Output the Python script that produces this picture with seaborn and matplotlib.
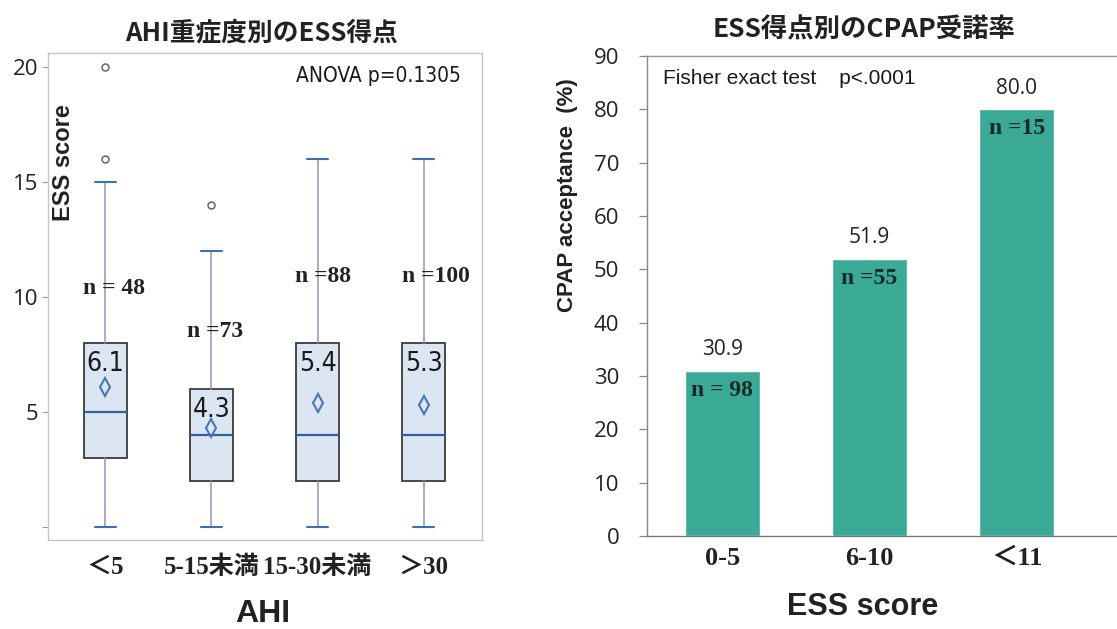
import matplotlib
matplotlib.use("Agg")
import matplotlib.pyplot as plt
import seaborn as sns
import pandas as pd

# ---- data -------------------------------------------------------------
ahi_groups = ["＜5", "5-15未満", "15-30未満", "＞30"]
ess_q1 = [3, 2, 2, 2]
ess_median = [5, 4, 4, 4]
ess_q3 = [8, 6, 8, 8]
ess_whisker_low = [0, 0, 0, 0]
ess_whisker_high = [15, 12, 16, 16]
ess_outliers = [[16, 20], [14], [], []]
ess_mean = [6.1, 4.3, 5.4, 5.3]
ahi_n = [48, 73, 88, 100]
ahi_n_text = ["n = 48", "n =73", "n =88", "n =100"]

ess_groups = ["0-5", "6-10", "＜11"]
cpap_acceptance = [30.9, 51.9, 80.0]
ess_n_text = ["n = 98", "n =55", "n =15"]

# ---- style ------------------------------------------------------------
sns.set_theme(style="white")
plt.rcParams["font.family"] = ["DejaVu Sans", "Noto Sans CJK JP"]

W, H = 1117, 629
fig = plt.figure(figsize=(W / 100, H / 100), dpi=100)


def fx(px):
    return px / W


def fy(py):
    return 1 - py / H


SANS = ["Liberation Sans", "DejaVu Sans"]
TICKS = ["Open Sans", "DejaVu Sans"]
SERIF_CJK = ["Liberation Serif", "Noto Sans CJK JP"]
CJK = ["Noto Sans CJK JP", "DejaVu Sans"]

# ---- left: ESS score by AHI severity ---------------------------------
ax1 = fig.add_axes([fx(48), fy(540), fx(482 - 48), (540 - 53) / H])

stats = []
for i in range(len(ahi_groups)):
    stats.append(dict(
        q1=ess_q1[i], med=ess_median[i], q3=ess_q3[i],
        whislo=ess_whisker_low[i], whishi=ess_whisker_high[i],
        fliers=ess_outliers[i], mean=ess_mean[i], label=ahi_groups[i],
    ))

ax1.bxp(
    stats, positions=range(len(ahi_groups)), widths=0.4,
    patch_artist=True, showmeans=True,
    boxprops=dict(facecolor="#dce6f2", edgecolor="#3a3a3a", linewidth=1.3),
    medianprops=dict(color="#2f5f9f", linewidth=1.6),
    whiskerprops=dict(color="#8a9ab8", linewidth=1.1),
    capprops=dict(color="#3f6fb0", linewidth=1.5),
    meanprops=dict(marker="d", markerfacecolor="none",
                   markeredgecolor="#4a74b4", markersize=9, markeredgewidth=1.5),
    flierprops=dict(marker="o", markerfacecolor="none",
                    markeredgecolor="#666666", markersize=5, markeredgewidth=1.1),
)

ax1.set_xlim(-0.54, 3.55)
ax1.set_ylim(-0.57, 20.6)
ax1.set_yticks([0, 5, 10, 15, 20])
ax1.set_yticklabels(["", "5", "10", "15", "20"], family=TICKS, fontsize=16, color="#222222")
ax1.set_xticks(range(len(ahi_groups)))
ax1.set_xticklabels(ahi_groups, family=SERIF_CJK, fontsize=18, fontweight="bold", color="#222222")
ax1.tick_params(axis="x", length=0, pad=11)
ax1.tick_params(axis="y", length=4, width=0.8, color="#999999", pad=3, left=True)
for s in ax1.spines.values():
    s.set_color("#c4c4c4")
    s.set_linewidth(1.0)

# mean values written inside the boxes
for i, m in enumerate(ess_mean):
    ax1.text(i, ess_q3[i] - 0.9, f"{m:.1f}", ha="center", va="center",
             family="DejaVu Sans", fontstretch="condensed", fontsize=19,
             color="#1a1a1a")

# sample sizes
n_label_y = [10.35, 8.5, 10.9, 10.9]
n_label_dx = [0.08, 0.03, 0.05, 0.12]
for i, t in enumerate(ahi_n_text):
    ax1.text(i + n_label_dx[i], n_label_y[i], t, ha="center", va="center",
             family=SERIF_CJK, fontsize=17, fontweight="bold", color="#222222")

ax1.text(0.952, 0.953, "ANOVA p=0.1305", transform=ax1.transAxes,
         ha="right", va="center", family="DejaVu Sans", fontstretch="condensed",
         fontsize=15, color="#1a1a1a")
ax1.text(0.035, 0.774, "ESS score", transform=ax1.transAxes, rotation=90,
         ha="center", va="center", family=SANS, fontsize=17,
         fontweight="bold", color="#222222")

fig.text(fx(262), fy(33), "AHI重症度別のESS得点", ha="center", va="center",
         family=CJK, fontsize=18.5, fontweight="bold", color="#222222")
fig.text(fx(263), fy(614), "AHI", ha="center", va="center",
         family=SANS, fontsize=23, fontweight="bold", color="#222222")

# ---- right: CPAP acceptance by ESS score -----------------------------
ax2 = fig.add_axes([fx(647), fy(536), fx(W - 647), (536 - 56) / H])

df = pd.DataFrame({"ess": ess_groups, "acc": cpap_acceptance})
sns.barplot(data=df, x="ess", y="acc", color="#3aaa97", saturation=1,
            width=0.51, ax=ax2)

ax2.set_xlim(-0.51, 2.68)
ax2.set_ylim(0, 90)
ax2.set_yticks(range(0, 91, 10))
ax2.set_yticklabels([str(v) for v in range(0, 91, 10)], family=TICKS,
                    fontsize=16, color="#222222")
ax2.set_xticks(range(len(ess_groups)))
ax2.set_xticklabels(ess_groups, family=SERIF_CJK, fontsize=19,
                    fontweight="bold", color="#222222")
ax2.set_xlabel("")
ax2.set_ylabel("")
ax2.tick_params(axis="x", length=0, pad=8)
ax2.tick_params(axis="y", length=6, width=0.9, color="#888888", pad=14, left=True)
ax2.spines["right"].set_visible(False)
ax2.spines["left"].set_color("#888888")
ax2.spines["bottom"].set_color("#777777")
ax2.spines["top"].set_color("#999999")
for s in ("left", "bottom", "top"):
    ax2.spines[s].set_linewidth(1.0)

for i, v in enumerate(cpap_acceptance):
    ax2.text(i, v + 4, f"{v:.1f}", ha="center", va="center",
             family=TICKS, fontsize=15, color="#222222")
    ax2.text(i, v - 3.6, ess_n_text[i], ha="center", va="center",
             family=SERIF_CJK, fontsize=17, fontweight="bold", color="#172a26")

ax2.text(fx(663 - 647) / fx(W - 647), (536 - 79) / (536 - 56),
         "Fisher exact test    p<.0001", transform=ax2.transAxes,
         ha="left", va="center", family=SANS, fontsize=15, color="#1a1a1a")

fig.text(fx(864), fy(30), "ESS得点別のCPAP受諾率", ha="center", va="center",
         family=CJK, fontsize=19, fontweight="bold", color="#222222")
fig.text(fx(863), fy(607), "ESS score", ha="center", va="center",
         family=SANS, fontsize=22, fontweight="bold", color="#222222")
fig.text(fx(568), fy(195), "CPAP acceptance  (%)", ha="center", va="center",
         rotation=90, family=SANS, fontsize=16, fontweight="bold", color="#222222")

fig.savefig("out.png", dpi=100)
